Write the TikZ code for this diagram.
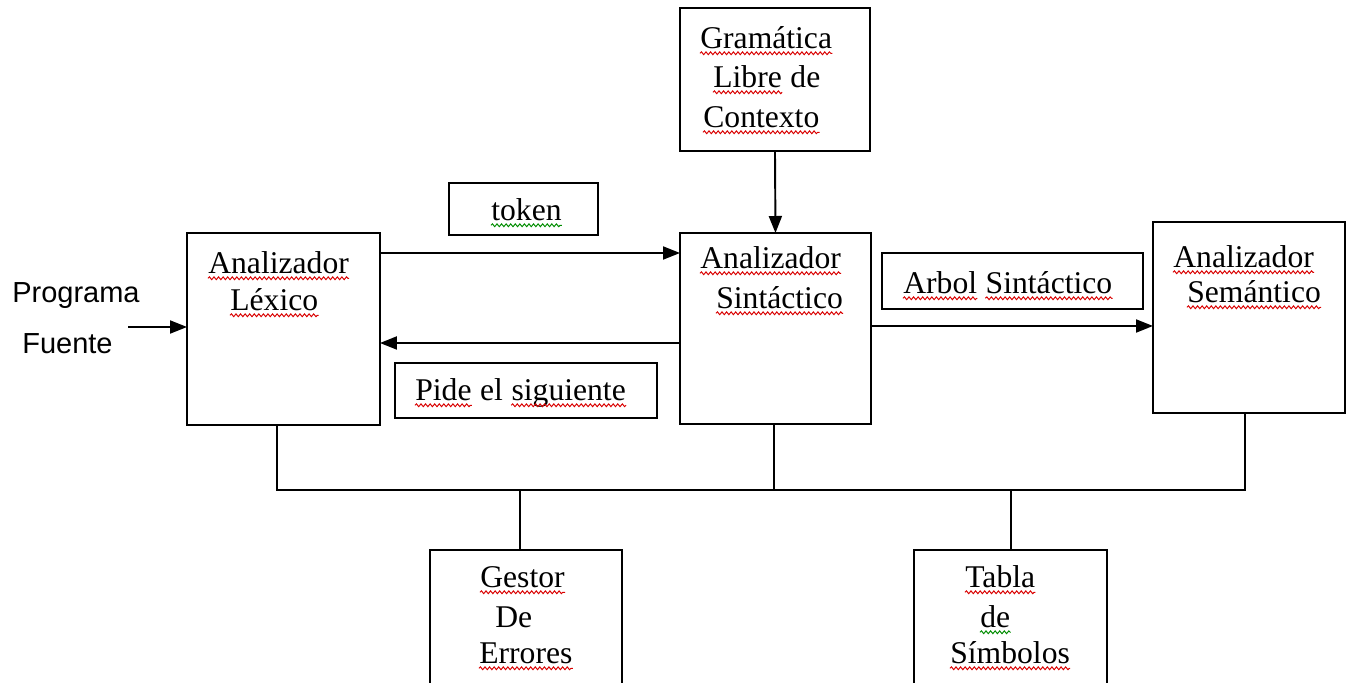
\documentclass[tikz,border=0pt]{standalone}
\usepackage{fontspec}
\setmainfont{Liberation Serif}
\newfontfamily\arialfont{Liberation Sans}
\usetikzlibrary{arrows.meta,decorations.pathmorphing}

\begin{document}
\begin{tikzpicture}[x=0.02cm, y=-0.02cm,
  box/.style={draw, line width=1.1pt, anchor=north west, inner sep=0pt, outer sep=0pt},
  txt/.style={anchor=base west, inner sep=0pt, font=\fontsize{18}{22}\selectfont},
  sans/.style={anchor=base west, inner sep=0pt, font=\arialfont\fontsize{16.5}{20}\selectfont},
  wire/.style={line width=1.1pt},
  arr/.style={wire, -{Triangle[length=0.34cm,width=0.26cm]}},
  wave/.style={line width=0.55pt, decorate,
    decoration={snake, amplitude=0.8pt, segment length=2.6pt}},
  redwave/.style={wave, red!85!black},
  greenwave/.style={wave, green!55!black}]
\useasboundingbox (0,0) rectangle (1347,683);
\clip (0,0) rectangle (1347,683);

% boxes
\node[box, minimum width=3.86cm, minimum height=3.84cm] (lex)  at (187,233) {};
\node[box, minimum width=3.82cm, minimum height=3.82cm] (sin)  at (680,233) {};
\node[box, minimum width=3.80cm, minimum height=2.86cm] (gram) at (680,8) {};
\node[box, minimum width=3.84cm, minimum height=3.82cm] (sem)  at (1153,222) {};
\node[box, minimum width=2.98cm, minimum height=1.04cm] (tok)  at (449,183) {};
\node[box, minimum width=5.24cm, minimum height=1.10cm] (pide) at (395,363) {};
\node[box, minimum width=5.22cm, minimum height=1.12cm] (arb)  at (882,253) {};
\node[box, minimum width=3.84cm, minimum height=3.20cm] (gest) at (430,550) {};
\node[box, minimum width=3.86cm, minimum height=3.20cm] (tab)  at (914,550) {};

% texts
\node[sans] (progA) at (12,302) {Programa};
\node[sans] (progB) at (22,353) {Fuente};

\node[txt] (lexA) at (208,273) {Analizador};
\node[txt] (lexB) at (230,310) {Léxico};

\node[txt] (gramA) at (700,48)  {Gramática};
\node[txt] (gramB) at (713,87)  {Libre};
\node[txt] (gramB2) at ([xshift=4.5pt]gramB.base east) {de};
\node[txt] (gramC) at (703,127) {Contexto};

\node[txt] (sinA) at (700,268) {Analizador};
\node[txt] (sinB) at (716,308) {Sintáctico};

\node[txt] (tokA) at (491,220) {token};

\node[txt] (pideA) at (415,400) {Pide};
\node[txt] (pideB) at ([xshift=4.5pt]pideA.base east) {el};
\node[txt] (pideC) at ([xshift=4.5pt]pideB.base east) {siguiente};

\node[txt] (arbA) at (903,293) {Arbol};
\node[txt] (arbB) at ([xshift=4.5pt]arbA.base east) {Sintáctico};

\node[txt] (semA) at (1173,267) {Analizador};
\node[txt] (semB) at (1187,302) {Semántico};

\node[txt] (gestA) at (480,587) {Gestor};
\node[txt] (gestB) at (495,627) {De};
\node[txt] (gestC) at (479,663) {Errores};

\node[txt] (tabA) at (965,587) {Tabla};
\node[txt] (tabB) at (980,627) {de};
\node[txt] (tabC) at (950,663) {Símbolos};

% spell-check underlines
\foreach \w in {lexA,lexB,gramA,gramB,gramC,sinA,sinB,pideA,pideC,arbA,arbB,semA,semB,gestA,gestC,tabA,tabC}
  \draw[redwave] ([yshift=-3pt]\w.base west) -- ([yshift=-3pt]\w.base east);
\foreach \w in {tokA,tabB}
  \draw[greenwave] ([yshift=-3pt]\w.base west) -- ([yshift=-3pt]\w.base east);

% connectors
\coordinate (src) at (128,327);
\draw[arr] (src) -- (src -| lex.west);
\draw[arr] ([yshift=-0.4cm]lex.north east) -- ([yshift=-0.4cm]sin.north west);
\draw[arr] ([yshift=-2.2cm]sin.north west) -- ([yshift=-2.2cm]lex.north east);
\draw[arr] (gram.south) -- (sin.north);
\coordinate (tree) at ([yshift=-1.86cm]sin.north east);
\draw[arr] (tree) -- (tree -| sem.west);

% shared bus
\coordinate (bus) at (277,490);
\draw[wire] ([xshift=-0.13cm]lex.south) |- ([xshift=-0.08cm]sem.south |- bus) -- ([xshift=-0.08cm]sem.south);
\draw[wire] ([xshift=-0.03cm]sin.south) -- ([xshift=-0.03cm]sin.south |- bus);
\draw[wire] ([xshift=-0.12cm]gest.north) -- ([xshift=-0.12cm]gest.north |- bus);
\draw[wire] ([xshift=0.01cm]tab.north) -- ([xshift=0.01cm]tab.north |- bus);
\end{tikzpicture}
\end{document}
